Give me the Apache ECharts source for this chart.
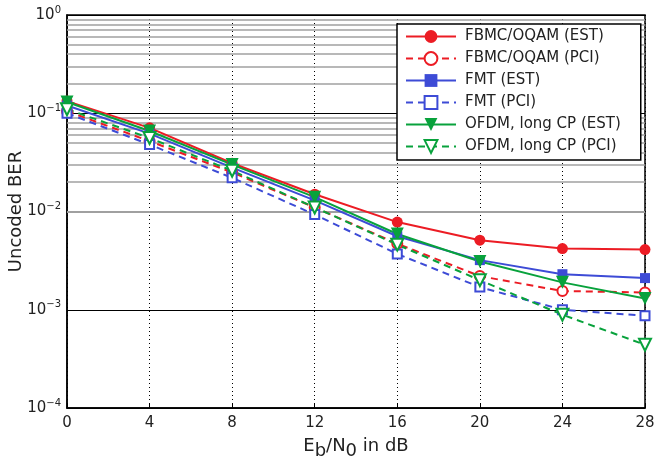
<!DOCTYPE html>
<html>
<head>
<meta charset="utf-8">
<script src="https://cdn.jsdelivr.net/npm/echarts@6/dist/echarts.min.js"></script>
<style>
  html, body { margin: 0; padding: 0; background: #fff; }
  #main { width: 655px; height: 464px; }
</style>
</head>
<body>
<div id="main"></div>
<script>
var snr = [0, 4, 8, 12, 16, 20, 24, 28];

var fbmcEst = [0.133, 0.071, 0.031, 0.015, 0.0078, 0.0051, 0.0042, 0.0041];
var fbmcPci = [0.105, 0.052, 0.025, 0.011, 0.0047, 0.0022, 0.00155, 0.0015];
var fmtEst  = [0.12, 0.062, 0.028, 0.013, 0.0056, 0.0032, 0.0023, 0.0021];
var fmtPci  = [0.10, 0.048, 0.022, 0.0093, 0.0037, 0.0017, 0.0010, 0.00087];
var ofdmEst = [0.13, 0.066, 0.030, 0.014, 0.0059, 0.0031, 0.0019, 0.0013];
var ofdmPci = [0.11, 0.056, 0.026, 0.011, 0.0046, 0.0020, 0.00089, 0.00044];

var xTicks = [0, 4, 8, 12, 16, 20, 24, 28];
var decades = [1e-4, 1e-3, 1e-2, 1e-1, 1];

// minor grid lines at 2..9 x each decade
var minorLines = [];
for (var d = 0; d < 4; d++) {
  for (var k = 2; k <= 9; k++) {
    minorLines.push({ yAxis: k * decades[d] });
  }
}

var RED = '#ec1c24', BLUE = '#3d4bd6', GREEN = '#08a23c';
var FONT = 'DejaVu Sans';

function pairs(ys) {
  return snr.map(function (x, i) { return [x, ys[i]]; });
}

function mkSeries(name, ys, color, dashed, symbol, size, rotate) {
  return {
    name: name,
    type: 'line',
    data: pairs(ys),
    clip: false,
    z: 5,
    symbol: symbol,
    symbolSize: size,
    symbolRotate: rotate || 0,
    showAllSymbol: true,
    lineStyle: { color: color, width: 2, type: dashed ? [7, 5] : 'solid' },
    itemStyle: { color: color, borderColor: color, borderWidth: dashed ? 2 : 0 },
    emphasis: { disabled: true }
  };
}

var chart = echarts.init(document.getElementById('main'));

chart.setOption({
  animation: false,
  textStyle: { fontFamily: FONT },
  grid: {
    left: 67, right: 10, top: 15, bottom: 56,
    containLabel: false, outerBoundsMode: 'none',
    show: true, borderColor: '#000', borderWidth: 1.5
  },
  legend: {
    data: ['FBMC/OQAM (EST)', 'FBMC/OQAM (PCI)', 'FMT (EST)', 'FMT (PCI)',
           'OFDM, long CP (EST)', 'OFDM, long CP (PCI)'],
    orient: 'vertical',
    left: 397, top: 24, z: 20,
    padding: [5, 20, 6, 8],
    itemWidth: 50, itemHeight: 16, itemGap: 7,
    backgroundColor: '#fff',
    borderColor: '#000', borderWidth: 1.5, borderRadius: 0,
    textStyle: { fontFamily: FONT, fontSize: 15, color: '#222', padding: [0, 0, 0, 4] }
  },
  xAxis: {
    type: 'value',
    min: 0, max: 28, interval: 4,
    name: 'E{s|b}/N{s|0} in dB',
    nameLocation: 'middle', nameGap: 24,
    nameTextStyle: {
      fontFamily: FONT, fontSize: 18, color: '#222',
      rich: { s: { fontFamily: FONT, fontSize: 18, color: '#222', verticalAlign: 'bottom', padding: [10, 0, 0, 0] } }
    },
    axisLine: { lineStyle: { color: '#000', width: 1.5 } },
    axisTick: { inside: true, length: 5, lineStyle: { color: '#000' } },
    axisLabel: { fontFamily: FONT, fontSize: 15, color: '#222', margin: 8,
      formatter: function (v) { return xTicks.indexOf(v) >= 0 ? String(v) : ''; } },
    splitLine: { show: true, lineStyle: { color: '#000', width: 1, type: [1, 3] } }
  },
  yAxis: {
    type: 'log', logBase: 10,
    min: 1e-4, max: 1,
    name: 'Uncoded BER',
    nameLocation: 'middle', nameGap: 42, nameMoveOverlap: false,
    nameTextStyle: { fontFamily: FONT, fontSize: 18, color: '#222' },
    axisLine: { lineStyle: { color: '#000', width: 1.5 } },
    axisTick: { inside: true, length: 5, lineStyle: { color: '#000' } },
    axisLabel: {
      margin: 6,
      formatter: function (v) {
        var e = Math.round(Math.log10(v));
        return '{b|10}{e|' + (e < 0 ? '\u2212' + (-e) : e) + '}';
      },
      rich: {
        b: { fontFamily: FONT, fontSize: 15, color: '#222' },
        e: { fontFamily: FONT, fontSize: 10, color: '#222', verticalAlign: 'top', padding: [0, 0, 10, 0] }
      }
    },
    splitLine: { show: true, lineStyle: { color: '#000', width: 1.2 } }
  },
  series: [
    {
      name: 'grid-minor', type: 'line', data: [], z: 1, silent: true,
      markLine: {
        silent: true, symbol: 'none', animation: false, z: 1,
        label: { show: false },
        lineStyle: { color: '#a0a0a0', width: 1.5, type: 'solid' },
        emphasis: { disabled: true },
        data: minorLines
      }
    },
    mkSeries('FBMC/OQAM (EST)', fbmcEst, RED, false, 'circle', 11),
    mkSeries('FBMC/OQAM (PCI)', fbmcPci, RED, true, 'emptyCircle', 10),
    mkSeries('FMT (EST)', fmtEst, BLUE, false, 'rect', 10),
    mkSeries('FMT (PCI)', fmtPci, BLUE, true, 'emptyRect', 9),
    mkSeries('OFDM, long CP (EST)', ofdmEst, GREEN, false, 'triangle', 13, 180),
    mkSeries('OFDM, long CP (PCI)', ofdmPci, GREEN, true, 'emptyTriangle', 12, 180)
  ]
});
</script>
</body>
</html>
